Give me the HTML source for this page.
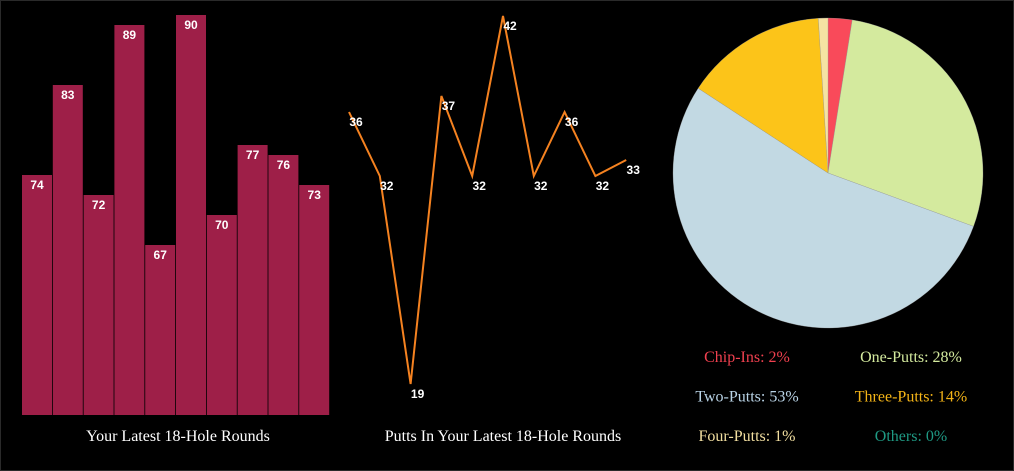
<!DOCTYPE html>
<html><head><meta charset="utf-8"><style>
html,body{margin:0;padding:0;background:#000;}
#wrap{width:1012px;height:469px;border:1px solid #2a2a2a;position:relative;overflow:hidden;background:#000;}
svg text{font-family:"Liberation Sans",sans-serif;}
.t{font-family:"Liberation Serif",serif;font-size:16px;}
</style></head><body>
<div id="wrap">
<svg id="s" width="1012" height="469">
<text class="t" x="177" y="440" fill="#fff" text-anchor="middle">Your Latest 18-Hole Rounds</text>
<text class="t" x="502" y="440" fill="#fff" text-anchor="middle">Putts In Your Latest 18-Hole Rounds</text>
</svg>
</div>
<script>
const rounds=[74,83,72,89,67,90,70,77,76,73];
const putts=[36,32,19,37,32,42,32,36,32,33];
const pieLabels=["Chip-Ins","One-Putts","Two-Putts","Three-Putts","Four-Putts","Others"];
const pieValues=[2.5,28.1,53.6,14.8,1.0,0];
const pieShown=["2%","28%","53%","14%","1%","0%"];
const pieColors=["#f94a5a","#d4ea9e","#c2d9e3","#fcc419","#f5e3a3","#20a080"];
const legendColors=["#f0404f","#d4ea9e","#b9d3e6","#f5b517","#f2dfa0","#1f9a84"];
const NS="http://www.w3.org/2000/svg";
const svg=document.getElementById('s');
function mk(t,a){const e=document.createElementNS(NS,t);for(const k in a)e.setAttribute(k,a[k]);svg.appendChild(e);return e;}
// bar chart
const bx=i=>21+i*30.8, by=v=>414-(v-50)*10;
rounds.forEach((v,i)=>{
 const r=mk('rect',{x:bx(i),y:by(v),width:30,height:414-by(v),fill:'#9e1f48'});
 
 
 const t=mk('text',{x:bx(i)+15,y:by(v)+14,fill:'#fff','font-size':12,'font-weight':'bold','text-anchor':'middle'});
 t.textContent=v;
 
 
});
// line chart
const lx=i=>348+i*30.8, ly=v=>15+(42-v)*16;
const p=mk('polyline',{points:putts.map((v,i)=>lx(i)+','+ly(v)).join(' '),fill:'none',stroke:'#f58220','stroke-width':2});


putts.forEach((v,i)=>{
 const t=mk('text',{x:lx(i)+7,y:ly(v)+14,fill:'#fff','font-size':12,'font-weight':'bold','text-anchor':'middle'});
 t.textContent=v;
 
 
});
// pie
const cx=827,cy=172,R=155;let a=0;const tot=pieValues.reduce((s,v)=>s+v,0);
pieValues.forEach((v,i)=>{
 if(v<=0)return;
 const a0=a/tot*2*Math.PI;a+=v;const a1=a/tot*2*Math.PI;
 const x0=cx+R*Math.sin(a0),y0=cy-R*Math.cos(a0),x1=cx+R*Math.sin(a1),y1=cy-R*Math.cos(a1);
 const s=mk('path',{d:`M${cx},${cy}L${x0},${y0}A${R},${R} 0 ${a1-a0>Math.PI?1:0} 1 ${x1},${y1}Z`,fill:pieColors[i],stroke:'#999','stroke-width':0.3});
 
 
});
pieLabels.forEach((l,i)=>{
 const t=mk('text',{class:'t',x:i%2?910:746,y:361+Math.floor(i/2)*39.5,fill:legendColors[i],'text-anchor':'middle'});
 t.textContent=l+': '+pieShown[i];
 
 
});
</script>
</body></html>
